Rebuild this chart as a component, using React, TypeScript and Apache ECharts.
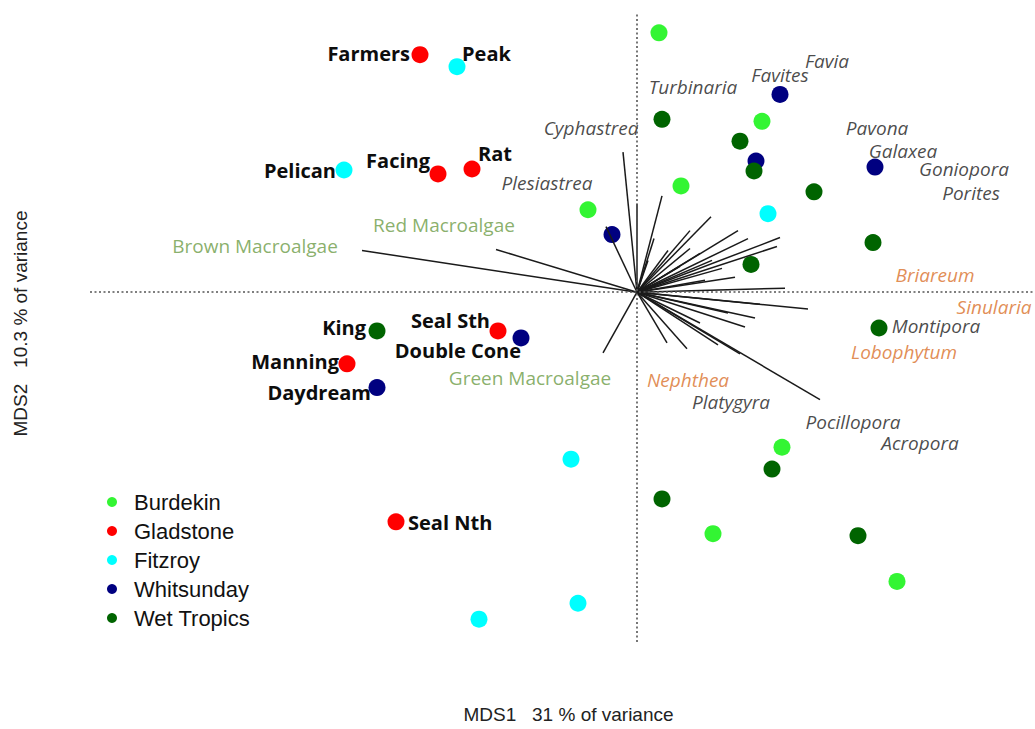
import React, { useEffect, useRef } from 'react';
import * as echarts from 'echarts';

// ---- Regions (legend) ----
const regions = ['Burdekin', 'Gladstone', 'Fitzroy', 'Whitsunday', 'Wet Tropics'];
const regionColors = ['#33f533', '#ff0000', '#00ffff', '#000080', '#006400'];

// ---- Site scores (MDS1, MDS2) per region ----
const burdekinNames = ['', '', '', '', '', '', ''];
const burdekinX = [0.22, 1.25, 0.44, -0.49, 1.45, 0.76, 2.6];
const burdekinY = [2.61, 1.72, 1.07, 0.83, -1.56, -2.43, -2.91];

const gladstoneNames = ['Farmers', 'Facing', 'Rat', 'Seal Sth', 'Manning', 'Seal Nth'];
const gladstoneX = [-2.17, -1.99, -1.65, -1.39, -2.9, -2.41];
const gladstoneY = [2.39, 1.19, 1.24, -0.39, -0.72, -2.31];

const fitzroyNames = ['Peak', 'Pelican', '', '', '', ''];
const fitzroyX = [-1.8, -2.93, 1.31, -0.66, -0.59, -1.58];
const fitzroyY = [2.27, 1.23, 0.79, -1.68, -3.13, -3.29];

const whitsundayNames = ['', '', '', '', 'Double Cone', 'Daydream'];
const whitsundayX = [1.43, 1.19, 2.38, -0.25, -1.16, -2.6];
const whitsundayY = [1.99, 1.32, 1.26, 0.58, -0.46, -0.96];

const wetTropicsNames = ['', '', '', '', '', '', 'King', '', '', '', ''];
const wetTropicsX = [0.25, 1.03, 1.17, 1.77, 2.36, 1.14, -2.6, 2.42, 1.35, 0.25, 2.21];
const wetTropicsY = [1.74, 1.52, 1.22, 1.01, 0.5, 0.28, -0.39, -0.36, -1.78, -2.08, -2.45];

// ---- Vector (variable) end points ----
const vecX = [-2.75, -1.41, -0.34, -0.14, -0.31, 0.0, 0.25, 0.17, 0.11, 0.53, 0.74, 1.01, 1.11, 1.43, 1.4, 0.63, 0.75, 0.53, 0.85, 0.98, 0.68, 1.48, 1.71, 1.23, 0.91, 1.08, 0.3, 0.5, 0.81, 1.03, 1.83, 0.63, 1.18, 0.43, 0.31];
const vecY = [0.42, 0.43, -0.61, 1.41, 0.66, 0.89, 0.97, 0.54, 0.32, 0.62, 0.76, 0.62, 0.54, 0.55, 0.46, 0.39, 0.32, 0.44, 0.24, 0.15, 0.12, 0.04, -0.17, -0.12, -0.21, -0.35, -0.51, -0.57, -0.53, -0.62, -1.08, -0.31, -0.26, 0.26, 0.42];

// ---- Variable labels ----
const hardCoralNames = ['Favia', 'Favites', 'Turbinaria', 'Cyphastrea', 'Pavona', 'Galaxea', 'Goniopora', 'Porites', 'Plesiastrea', 'Montipora', 'Platygyra', 'Pocillopora', 'Acropora'];
const hardCoralX = [1.9, 1.43, 0.56, -0.46, 2.4, 2.66, 3.27, 3.34, -0.9, 2.99, 0.94, 2.16, 2.83];
const hardCoralY = [2.33, 2.19, 2.07, 1.65, 1.65, 1.42, 1.24, 1.0, 1.1, -0.34, -1.1, -1.31, -1.52];

const softCoralNames = ['Briareum', 'Sinularia', 'Lobophytum', 'Nephthea'];
const softCoralX = [2.98, 3.57, 2.67, 0.51];
const softCoralY = [0.17, -0.15, -0.6, -0.88];

const algaeNames = ['Brown Macroalgae', 'Red Macroalgae', 'Green Macroalgae'];
const algaeX = [-3.82, -1.93, -1.07];
const algaeY = [0.47, 0.68, -0.86];

// ---- Axis titles ----
const xTitle = 'MDS1   31 % of variance';
const yTitle = 'MDS2   10.3 % of variance';

// label placement for named sites: [align, dx, dy]
const sitePlacement: Record<string, [string, number, number]> = {
  Farmers: ['right', -10, -1],
  Peak: ['left', 5, -13],
  Pelican: ['right', -8, 0],
  Facing: ['right', -8, -13],
  Rat: ['left', 6, -16],
  'Seal Sth': ['right', -8, -10],
  'Double Cone': ['right', 0, 13],
  King: ['right', -11, -3],
  Manning: ['right', -8, -2],
  Daydream: ['right', -6, 5],
  'Seal Nth': ['left', 12, 1],
};

const siteGroups = [
  { names: burdekinNames, xs: burdekinX, ys: burdekinY },
  { names: gladstoneNames, xs: gladstoneX, ys: gladstoneY },
  { names: fitzroyNames, xs: fitzroyX, ys: fitzroyY },
  { names: whitsundayNames, xs: whitsundayX, ys: whitsundayY },
  { names: wetTropicsNames, xs: wetTropicsX, ys: wetTropicsY },
];

function buildSiteData(names: string[], xs: number[], ys: number[]) {
  return xs.map((x, i) => {
    const name = names[i];
    const item: any = { value: [x, ys[i]], name };
    if (name && sitePlacement[name]) {
      const [align, dx, dy] = sitePlacement[name];
      item.label = {
        show: true,
        position: 'inside',
        align,
        verticalAlign: 'middle',
        offset: [dx, dy],
        formatter: name,
      };
    }
    return item;
  });
}

function labelSeries(names: string[], xs: number[], ys: number[], color: string, fontStyle: string) {
  return {
    type: 'scatter',
    silent: true,
    symbolSize: 1,
    itemStyle: { color: 'transparent' },
    z: 4,
    data: xs.map((x, i) => ({ value: [x, ys[i]], name: names[i] })),
    label: {
      show: true,
      position: 'inside',
      align: 'center',
      verticalAlign: 'middle',
      formatter: '{b}',
      color,
      fontFamily: 'Open Sans',
      fontStyle,
      fontSize: 19,
      lineHeight: 17,
    },
    emphasis: { disabled: true },
  };
}

export default function App() {
  const ref = useRef<HTMLDivElement>(null);
  useEffect(() => {
    if (!ref.current) return;
    const chart = echarts.init(ref.current, undefined, { renderer: 'svg' });

    const siteSeries = siteGroups.map((g, gi) => ({
      type: 'scatter',
      name: regions[gi],
      symbol: 'circle',
      symbolSize: 17,
      z: 2,
      itemStyle: { color: regionColors[gi], opacity: 1 },
      data: buildSiteData(g.names, g.xs, g.ys),
      label: {
        show: false,
        color: '#0d0d0d',
        fontFamily: 'Open Sans',
        fontWeight: 'bold',
        fontSize: 20,
      },
      emphasis: { disabled: true },
      ...(gi === 0
        ? {
            markLine: {
              silent: true,
              symbol: ['none', 'none'],
              label: { show: false },
              lineStyle: { color: '#555', type: [2, 2.5], width: 1.6 },
              data: [{ xAxis: 0 }, { yAxis: 0 }],
            },
          }
        : {}),
    }));

    const option: any = {
      animation: false,
      backgroundColor: '#ffffff',
      grid: { left: 90, right: 0, top: 13, bottom: 83 },
      xAxis: {
        type: 'value',
        min: -5.47,
        max: 3.98,
        axisLine: { show: false },
        axisTick: { show: false },
        axisLabel: { show: false },
        splitLine: { show: false },
        name: xTitle,
        nameLocation: 'middle',
        nameGap: 63,
        nameTextStyle: { fontFamily: 'Liberation Sans', fontSize: 19, color: '#222', padding: [0, 0, 0, 12] },
      },
      yAxis: {
        type: 'value',
        min: -3.52,
        max: 2.81,
        axisLine: { show: false },
        axisTick: { show: false },
        axisLabel: { show: false },
        splitLine: { show: false },
        name: yTitle,
        nameLocation: 'middle',
        nameRotate: 90,
        nameGap: 60,
        nameTextStyle: { fontFamily: 'Liberation Sans', fontSize: 19, color: '#222', padding: [0, 0, 0, 8] },
      },
      legend: {
        orient: 'vertical',
        left: 102,
        top: 486,
        itemWidth: 10,
        itemHeight: 10,
        itemGap: 7,
        icon: 'circle',
        data: regions,
        textStyle: {
          fontFamily: 'Liberation Sans',
          fontSize: 22,
          lineHeight: 22,
          color: '#111',
          padding: [0, 0, 0, 12],
        },
      },
      series: [
        ...siteSeries,
        {
          type: 'lines',
          coordinateSystem: 'cartesian2d',
          silent: true,
          z: 3,
          lineStyle: { color: '#1a1a1a', width: 1.5, opacity: 1 },
          data: vecX.map((x, i) => ({ coords: [[0, 0], [x, vecY[i]]] })),
        },
        labelSeries(hardCoralNames, hardCoralX, hardCoralY, '#1a1a1a', 'italic'),
        labelSeries(softCoralNames, softCoralX, softCoralY, '#d9702a', 'italic'),
        labelSeries(algaeNames, algaeX, algaeY, '#6b9b45', 'normal'),
      ],
    };
    chart.setOption(option);
    return () => chart.dispose();
  }, []);
  return (
    <div
      ref={ref}
      style={{ position: 'absolute', left: 0, top: 0, width: 1035, height: 729 }}
    />
  );
}
